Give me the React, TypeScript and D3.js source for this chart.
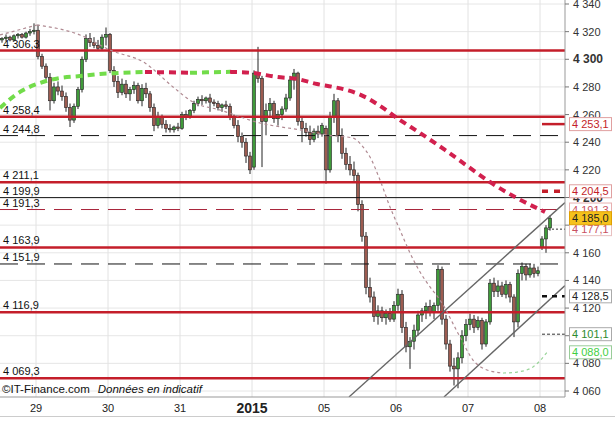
import * as d3 from "d3";

// one day = 18 bars, [open, high, low, close]
const preSession: number[][] = [
  [4314, 4316, 4312, 4315], [4315, 4318, 4313, 4316], [4316, 4317, 4313, 4314],
  [4314, 4318, 4313, 4317], [4317, 4319, 4315, 4318], [4318, 4319, 4315, 4316],
  [4316, 4320, 4315, 4319], [4319, 4322, 4317, 4320], [4320, 4326, 4318, 4321],
];
const dec29: number[][] = [
  [4321, 4325, 4300, 4302], [4302, 4304, 4293, 4295], [4295, 4297, 4285, 4287],
  [4287, 4290, 4263, 4270], [4270, 4283, 4268, 4280], [4280, 4284, 4274, 4277],
  [4277, 4281, 4270, 4273], [4273, 4276, 4262, 4265], [4265, 4268, 4251, 4256],
  [4256, 4268, 4254, 4266], [4266, 4280, 4264, 4278], [4278, 4302, 4276, 4300],
  [4300, 4318, 4298, 4315], [4315, 4319, 4309, 4312], [4312, 4316, 4308, 4310],
  [4310, 4314, 4306, 4308], [4308, 4318, 4306, 4316], [4316, 4323, 4310, 4318],
];
const dec30: number[][] = [
  [4318, 4319, 4290, 4292], [4292, 4295, 4280, 4284], [4284, 4288, 4272, 4276],
  [4276, 4286, 4274, 4282], [4282, 4285, 4272, 4275], [4275, 4280, 4270, 4278],
  [4278, 4284, 4275, 4281], [4281, 4283, 4268, 4270], [4270, 4282, 4266, 4279],
  [4279, 4283, 4272, 4275], [4275, 4277, 4262, 4265], [4265, 4268, 4248, 4252],
  [4252, 4262, 4250, 4258], [4258, 4260, 4250, 4253], [4253, 4256, 4247, 4250],
  [4250, 4253, 4247, 4249], [4249, 4252, 4247, 4251], [4251, 4254, 4248, 4250],
];
const dec31: number[][] = [
  [4250, 4262, 4249, 4260], [4260, 4263, 4256, 4258], [4258, 4264, 4257, 4263],
  [4263, 4270, 4261, 4268], [4268, 4273, 4266, 4271], [4271, 4274, 4267, 4270],
  [4270, 4273, 4268, 4272], [4272, 4275, 4262, 4269], [4269, 4271, 4266, 4268],
  [4268, 4270, 4263, 4265], [4265, 4268, 4262, 4267], [4267, 4270, 4264, 4266],
  [4266, 4268, 4256, 4258], [4258, 4260, 4250, 4252], [4252, 4256, 4240, 4244],
  [4244, 4247, 4236, 4240], [4240, 4243, 4225, 4230], [4230, 4233, 4217, 4220],
];
const jan02: number[][] = [
  [4222, 4292, 4220, 4290], [4290, 4309, 4283, 4286], [4286, 4288, 4222, 4255],
  [4255, 4268, 4245, 4263], [4263, 4272, 4258, 4268], [4268, 4270, 4254, 4257],
  [4257, 4263, 4252, 4260], [4260, 4266, 4256, 4264], [4264, 4275, 4262, 4272],
  [4272, 4288, 4270, 4285], [4285, 4293, 4278, 4290], [4290, 4291, 4252, 4255],
  [4255, 4258, 4240, 4250], [4250, 4254, 4244, 4247], [4247, 4252, 4238, 4242],
  [4242, 4250, 4240, 4248], [4248, 4252, 4243, 4246], [4246, 4254, 4244, 4252],
];
const jan05: number[][] = [
  [4250, 4252, 4210, 4220], [4220, 4262, 4218, 4258], [4258, 4275, 4254, 4270],
  [4270, 4272, 4240, 4245], [4245, 4250, 4228, 4232], [4232, 4236, 4220, 4224],
  [4224, 4230, 4216, 4220], [4220, 4226, 4212, 4216], [4216, 4218, 4190, 4195],
  [4195, 4198, 4168, 4172], [4172, 4175, 4130, 4135], [4135, 4142, 4124, 4128],
  [4128, 4132, 4110, 4114], [4114, 4122, 4108, 4118], [4118, 4121, 4110, 4113],
  [4113, 4119, 4108, 4116], [4116, 4120, 4110, 4112], [4112, 4125, 4110, 4122],
];
const jan06: number[][] = [
  [4122, 4134, 4118, 4130], [4130, 4133, 4102, 4106], [4106, 4110, 4088, 4092],
  [4092, 4099, 4076, 4096], [4096, 4108, 4090, 4104], [4104, 4118, 4100, 4115],
  [4115, 4120, 4110, 4118], [4118, 4124, 4112, 4121], [4121, 4126, 4114, 4117],
  [4117, 4124, 4112, 4122], [4122, 4151, 4118, 4148], [4148, 4150, 4108, 4112],
  [4112, 4115, 4090, 4094], [4094, 4097, 4074, 4078], [4078, 4084, 4064, 4076],
  [4076, 4088, 4062, 4084], [4084, 4104, 4080, 4100], [4100, 4112, 4096, 4108],
];
const jan07: number[][] = [
  [4108, 4116, 4104, 4112], [4112, 4115, 4102, 4106], [4106, 4114, 4104, 4111],
  [4111, 4113, 4090, 4094], [4094, 4112, 4092, 4110], [4110, 4141, 4108, 4138],
  [4138, 4142, 4128, 4132], [4132, 4140, 4128, 4136], [4136, 4139, 4128, 4130],
  [4130, 4140, 4127, 4137], [4137, 4139, 4124, 4128], [4128, 4130, 4099, 4110],
  [4110, 4148, 4106, 4145], [4145, 4153, 4140, 4150], [4150, 4152, 4140, 4144],
  [4144, 4152, 4142, 4149], [4149, 4152, 4142, 4145], [4145, 4150, 4143, 4147],
];
const jan08: number[][] = [
  [4164, 4172, 4162, 4170], [4170, 4180, 4160, 4178], [4178, 4187, 4176, 4185],
];

const dayLabels = ["29", "30", "31", "2015", "05", "06", "07", "08"];
const dayStarts = [8.5, 26.5, 44.5, 62.5, 80.5, 98.5, 116.5, 134.5];

const redLevels = [4306.3, 4258.4, 4211.1, 4163.9, 4116.9, 4069.3];
const dashedLevels = [4244.8, 4151.9];
const solidLevels = [4199.9];
const dashedRedLevels = [4191.3];

// moving averages read at bar index
const fastMaIdx = [-0.5, 8.75, 19.5, 27, 35.75, 42.75, 47.75, 54.5, 64.5, 74.5, 81.25, 87.75, 90.25, 92, 94.5, 97, 99.5, 102, 104.5, 107, 109.5, 114.5, 117.75, 121.25, 125.25, 128.75, 132.75, 136.25];
const fastMaVal = [4317.6, 4324.8, 4317.6, 4306.7, 4297.3, 4280, 4269, 4263.3, 4253.9, 4248.9, 4245.2, 4243, 4236.6, 4229.3, 4212.7, 4193.1, 4176.5, 4159.9, 4146.1, 4135.3, 4125.8, 4099.1, 4082.4, 4075.2, 4073, 4073.7, 4077.4, 4088];
const slowMaIdx = [-0.5, 4.5, 9.5, 14.5, 19.5, 24.5, 29.5, 35.75, 41.25, 47, 52, 57, 62.75, 68.75, 73.75, 78.75, 82.75, 87, 91.25, 95.25, 98.75, 104.5, 110.75, 117, 122, 128.25, 135.75];
const slowMaVal = [4264.8, 4276.4, 4282.9, 4286.5, 4287.9, 4289.4, 4290.1, 4290.8, 4290.6, 4290.2, 4290.6, 4290.9, 4290.1, 4287.2, 4285.8, 4282.1, 4280, 4277.1, 4272, 4264.8, 4257.5, 4246.7, 4234.4, 4221.4, 4211.2, 4200.4, 4189.5];

const upperChannel = [[86.75, 4055.7], [140.75, 4196.4]];
const lowerChannel = [[110.5, 4055.7], [140.75, 4136.3]];

const markerValues = [4253.1, 4204.5, 4191.3, 4177.1, 4185.0, 4128.5, 4101.1, 4088.0];

const width = 615;
const height = 421;
const plotRight = 565;
const plotBottom = 397;
const red = "#c41e2a";
const font = "'Liberation Sans', Arial, sans-serif";

const fmt = (v: number) => d3.format(",.1f")(v).replace(",", " ").replace(".", ",");

function runs(idx: number[], val: number[]) {
  // split into rising / falling stretches
  const out: { up: boolean; pts: [number, number][] }[] = [];
  for (let i = 1; i < idx.length; i++) {
    const up = val[i] >= val[i - 1];
    const last = out[out.length - 1];
    if (last && last.up === up) last.pts.push([idx[i], val[i]]);
    else out.push({ up, pts: [[idx[i - 1], val[i - 1]], [idx[i], val[i]]] });
  }
  return out;
}

export default function App() {
  const candles = [preSession, dec29, dec30, dec31, jan02, jan05, jan06, jan07, jan08].flat();

  const x = d3.scaleLinear().domain([-0.5, 140.75]).range([0, plotRight]);
  const y = d3.scaleLinear().domain([4060, 4340]).range([391, 4]);
  const ticks = d3.range(4060, 4341, 20);

  const line = d3
    .line<[number, number]>()
    .x((d) => x(d[0]))
    .y((d) => y(d[1]))
    .curve(d3.curveMonotoneX);
  const straight = d3
    .line<number[]>()
    .x((d) => x(d[0]))
    .y((d) => y(d[1]));

  const hLine = (v: number, key: string, stroke: string, w: number, dash?: string) => (
    <line key={key} x1={0} x2={plotRight} y1={y(v)} y2={y(v)} stroke={stroke} strokeWidth={w} strokeDasharray={dash} />
  );
  const leftLabel = (v: number) => (
    <text key={"l" + v} x={3} y={y(v) - 3} fontSize={11} fill="#111">
      {fmt(v)}
    </text>
  );

  const markerStyle: Record<number, { fill: string; stroke: string; color: string }> = {
    4253.1: { fill: "#fff", stroke: "#e0a0a0", color: "#c41e2a" },
    4204.5: { fill: "#fff", stroke: "#e0a0a0", color: "#c41e2a" },
    4191.3: { fill: "#fff", stroke: "#e8b0b0", color: "#c85060" },
    4177.1: { fill: "#fff", stroke: "#e8c0c0", color: "#c85060" },
    4185: { fill: "#f6c21c", stroke: "#e0a000", color: "#222" },
    4128.5: { fill: "#fff", stroke: "#aaa", color: "#222" },
    4101.1: { fill: "#fff", stroke: "#aaa", color: "#2e8b2e" },
    4088: { fill: "#fff", stroke: "#9c9", color: "#3fcf3f" },
  };

  const fastRuns = runs(fastMaIdx, fastMaVal);

  return (
    <div style={{ position: "absolute", left: 0, top: 0 }}>
      <svg width={width} height={height} style={{ display: "block", fontFamily: font }}>
        <defs>
          <clipPath id="plot">
            <rect x={0} y={0} width={plotRight} height={plotBottom} />
          </clipPath>
        </defs>
        <rect width={width} height={height} fill="#fff" />

        {/* grid */}
        {ticks.map((t) => (
          <line key={"g" + t} x1={0} x2={plotRight} y1={y(t)} y2={y(t)} stroke="#e6e6e6" />
        ))}
        {dayStarts.map((d) => (
          <line key={"v" + d} x1={x(d)} x2={x(d)} y1={0} y2={plotBottom} stroke="#e2e2e2" />
        ))}

        <g clipPath="url(#plot)">
          {/* candles */}
          {candles.map((c, i) => {
            const [o, h, l, cl] = c;
            const up = cl >= o;
            const top = y(Math.max(o, cl));
            const bh = Math.max(1, Math.abs(y(o) - y(cl)));
            return (
              <g key={"c" + i}>
                <line x1={x(i)} x2={x(i)} y1={y(h)} y2={y(l)} stroke="#222" strokeWidth={1} />
                <rect x={x(i) - 1.5} y={top} width={3} height={bh} fill={up ? "#3f9a3a" : "#9c5b50"} stroke="#222" strokeWidth={0.6} />
              </g>
            );
          })}

          {/* support / resistance */}
          {redLevels.map((v) => hLine(v, "r" + v, red, 2.5))}
          {dashedLevels.map((v) => hLine(v, "d" + v, "#111", 1, "18,9"))}
          {solidLevels.map((v) => hLine(v, "s" + v, "#111", 1))}
          {dashedRedLevels.map((v) => hLine(v, "dr" + v, "#a8243a", 1, "18,9"))}

          {/* channel */}
          <path d={straight(upperChannel) ?? ""} stroke="#666" strokeWidth={1.4} fill="none" />
          <path d={straight(lowerChannel) ?? ""} stroke="#666" strokeWidth={1.4} fill="none" />

          {/* moving averages */}
          {fastRuns.map((r, i) => (
            <path
              key={"f" + i}
              d={line(r.pts) ?? ""}
              fill="none"
              stroke={r.up && i === fastRuns.length - 1 ? "#9ad59a" : "#b08a92"}
              strokeWidth={1.2}
              strokeDasharray="3,3"
            />
          ))}
          {runs(slowMaIdx, slowMaVal).map((r, i) => (
            <path key={"m" + i} d={line(r.pts) ?? ""} fill="none" stroke={r.up ? "#72dc4a" : "#d2204e"} strokeWidth={4} strokeDasharray="7,5" />
          ))}

          {/* short marks near the axis */}
          <line x1={542} x2={plotRight} y1={y(4253.1)} y2={y(4253.1)} stroke={red} strokeWidth={2.5} />
          <line x1={542} x2={plotRight} y1={y(4204.5)} y2={y(4204.5)} stroke={red} strokeWidth={3.5} strokeDasharray="6,6" />
          <line x1={548} x2={plotRight} y1={y(4177.1)} y2={y(4177.1)} stroke="#333" strokeWidth={1} strokeDasharray="2,2" />
          <line x1={542} x2={plotRight} y1={y(4128.5)} y2={y(4128.5)} stroke="#111" strokeWidth={2.5} strokeDasharray="5,5" />
          <line x1={542} x2={plotRight} y1={y(4101.1)} y2={y(4101.1)} stroke="#333" strokeWidth={1} strokeDasharray="3,2" />
        </g>

        {/* left labels */}
        {[...redLevels, ...dashedLevels, ...solidLevels, ...dashedRedLevels].map(leftLabel)}

        {/* axes frame */}
        <line x1={plotRight} x2={plotRight} y1={0} y2={plotBottom} stroke="#999" />
        <line x1={0} x2={plotRight} y1={plotBottom} y2={plotBottom} stroke="#999" />
        <line x1={0} x2={width} y1={416.5} y2={416.5} stroke="#ccc" />

        {/* right ticks; labels fully hidden under a marker box are left out */}
        {ticks.map((t) => {
          const bold = t % 100 === 0;
          const hidden = markerValues.some((m) => Math.abs(y(m) - y(t)) < 5);
          return (
            <g key={"t" + t}>
              <line x1={plotRight} x2={plotRight + 4} y1={y(t)} y2={y(t)} stroke="#777" />
              {!hidden && (
                <text x={plotRight + 8} y={y(t) + 4} fontSize={bold ? 12 : 11} fontWeight={bold ? "bold" : "normal"} fill="#333">
                  {d3.format(",")(t).replace(",", " ")}
                </text>
              )}
            </g>
          );
        })}

        {/* right markers */}
        {markerValues.map((v) => {
          const s = markerStyle[v];
          return (
            <g key={"mk" + v}>
              <rect x={569.5} y={y(v) - 6.5} width={42} height={13} fill={s.fill} stroke={s.stroke} />
              <text x={572} y={y(v) + 4} fontSize={11} fill={s.color}>
                {fmt(v)}
              </text>
            </g>
          );
        })}

        {/* day labels */}
        {dayLabels.map((d, i) => (
          <text
            key={"x" + d}
            x={x(dayStarts[i])}
            y={d === "2015" ? 413 : 412}
            textAnchor="middle"
            fontSize={d === "2015" ? 14 : 11}
            fontWeight={d === "2015" ? "bold" : "normal"}
            fill="#222"
          >
            {d}
          </text>
        ))}

        <text x={2} y={393} fontSize={11.5} fill="#111">
          ©IT-Finance.com
          <tspan dx={8} fontStyle="italic">Données en indicatif</tspan>
        </text>
      </svg>
    </div>
  );
}
